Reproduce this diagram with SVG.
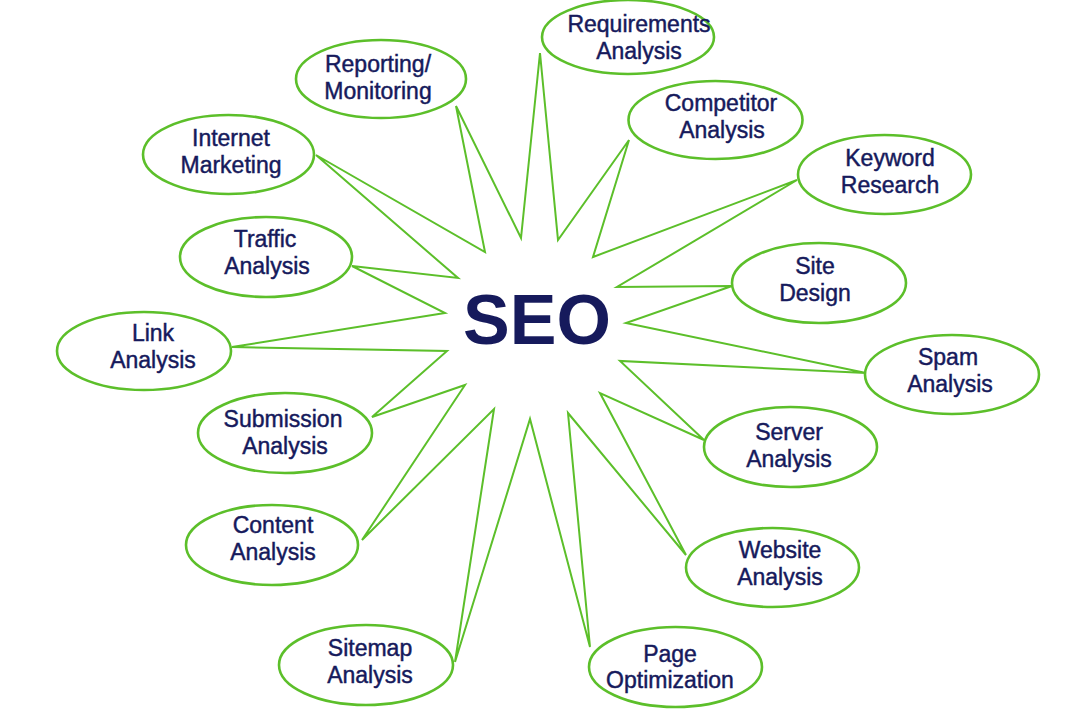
<svg xmlns="http://www.w3.org/2000/svg" width="1080" height="720" viewBox="0 0 1080 720">
<style>
.bg{fill:#ffffff}
.star{fill:#ffffff;stroke:#5cbf2a;stroke-width:2;stroke-linejoin:miter}
.el{fill:#ffffff;stroke:#5cbf2a;stroke-width:2.6}
.t{font-family:"Liberation Sans",Arial,sans-serif;font-size:23px;fill:#161a5c;stroke:#161a5c;stroke-width:0.45;text-anchor:middle}
.seo{font-family:"Liberation Sans",Arial,sans-serif;font-size:70px;font-weight:bold;fill:#161a5c;text-anchor:middle}
</style>
<rect class="bg" x="0" y="0" width="1080" height="720"/>
<g id="connectors">
<polygon class="star" points="540,53 558,240 629,140 593,257 797,180 617,287 732,286 626,323 866,373 620,361 704,440 600,393 686,555 568,413 590,647 530,419 455,662 494,409 362,540 465,385 372,417 447,351 232,347 445,313 352,266 458,278 316,155 485,252 456,106 521,238"/>
</g>
<g id="seo"><text class="seo" x="537" y="344">SEO</text></g>
<g id="requirements"><ellipse class="el" cx="628" cy="37" rx="86" ry="37"/><text class="t" x="639" y="32">Requirements</text><text class="t" x="639" y="59">Analysis</text></g>
<g id="reporting"><ellipse class="el" cx="381" cy="79" rx="85" ry="39"/><text class="t" x="378" y="72">Reporting/</text><text class="t" x="378" y="99">Monitoring</text></g>
<g id="competitor"><ellipse class="el" cx="715.5" cy="120" rx="87" ry="39"/><text class="t" x="721" y="111">Competitor</text><text class="t" x="722" y="138">Analysis</text></g>
<g id="internet"><ellipse class="el" cx="228.5" cy="154.5" rx="85.5" ry="39.5"/><text class="t" x="231" y="146">Internet</text><text class="t" x="231" y="173">Marketing</text></g>
<g id="keyword"><ellipse class="el" cx="884.5" cy="174.5" rx="86.5" ry="39.5"/><text class="t" x="890" y="166">Keyword</text><text class="t" x="890" y="193">Research</text></g>
<g id="traffic"><ellipse class="el" cx="266" cy="257" rx="86" ry="40"/><text class="t" x="265" y="247">Traffic</text><text class="t" x="267" y="274">Analysis</text></g>
<g id="site"><ellipse class="el" cx="819" cy="283" rx="87" ry="40"/><text class="t" x="815" y="274">Site</text><text class="t" x="815" y="301">Design</text></g>
<g id="link"><ellipse class="el" cx="144" cy="351" rx="87" ry="39"/><text class="t" x="153" y="341">Link</text><text class="t" x="153" y="368">Analysis</text></g>
<g id="spam"><ellipse class="el" cx="952" cy="374.5" rx="87" ry="39.5"/><text class="t" x="948" y="365">Spam</text><text class="t" x="950" y="392">Analysis</text></g>
<g id="submission"><ellipse class="el" cx="285" cy="433" rx="87" ry="40"/><text class="t" x="283" y="427">Submission</text><text class="t" x="285" y="454">Analysis</text></g>
<g id="server"><ellipse class="el" cx="790.5" cy="447" rx="86.5" ry="40"/><text class="t" x="789" y="440">Server</text><text class="t" x="789" y="467">Analysis</text></g>
<g id="content"><ellipse class="el" cx="272" cy="545" rx="86" ry="40"/><text class="t" x="273" y="533">Content</text><text class="t" x="273" y="560">Analysis</text></g>
<g id="website"><ellipse class="el" cx="772.5" cy="567.5" rx="86.5" ry="39.5"/><text class="t" x="780" y="558">Website</text><text class="t" x="780" y="585">Analysis</text></g>
<g id="sitemap"><ellipse class="el" cx="366" cy="665" rx="87" ry="40"/><text class="t" x="370" y="656">Sitemap</text><text class="t" x="370" y="683">Analysis</text></g>
<g id="page"><ellipse class="el" cx="675.5" cy="667" rx="86.5" ry="40"/><text class="t" x="670" y="662">Page</text><text class="t" x="670" y="688">Optimization</text></g>
</svg>
